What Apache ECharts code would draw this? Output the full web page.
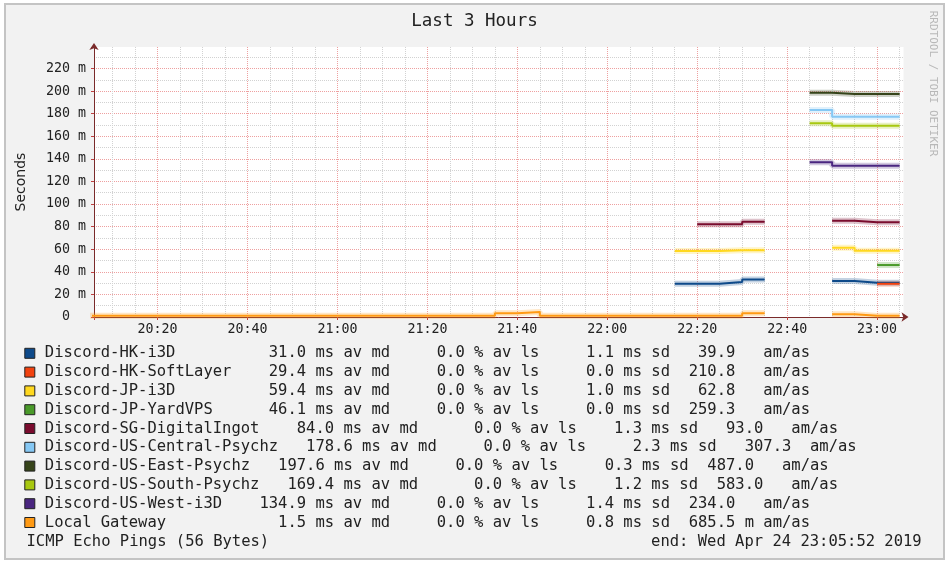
<!DOCTYPE html>
<html><head><meta charset="utf-8">
<script src="https://cdn.jsdelivr.net/npm/echarts@6/dist/echarts.min.js"></script>
<style>
html,body{margin:0;padding:0;background:#fff;}
#frame{position:absolute;left:4px;top:3px;width:941px;height:557px;box-sizing:border-box;border:2px solid #c4c4c4;background:#f2f2f2;}
#chart{width:937px;height:553px;}
</style></head><body>
<div id="frame"><div id="chart"></div></div>
<script>
// ---- data ----
const chartStart = '20:05:52';
const chartEnd = '23:05:52';
const slotMinutes = 5;
const slotStarts = ['20:05','20:10','20:15','20:20','20:25','20:30','20:35','20:40','20:45','20:50','20:55',
  '21:00','21:05','21:10','21:15','21:20','21:25','21:30','21:35','21:40','21:45','21:50','21:55',
  '22:00','22:05','22:10','22:15','22:20','22:25','22:30','22:35','22:40','22:45','22:50','22:55','23:00'];

const seriesNames = ['Discord-HK-i3D','Discord-HK-SoftLayer','Discord-JP-i3D','Discord-JP-YardVPS',
  'Discord-SG-DigitalIngot','Discord-US-Central-Psychz','Discord-US-East-Psychz','Discord-US-South-Psychz',
  'Discord-US-West-i3D','Local Gateway'];
const seriesColors = ['#0e4a8a','#f2420f','#ffd81f','#4a9a2a','#7a0c2e','#86c8f4','#36441a','#a8c810','#4a2680','#ff9a14'];

const N = null;
const hkI3d     = [N,N,N,N,N,N,N,N,N,N,N,N,N,N,N,N,N,N,N,N,N,N,N,N,N,N, 29.5,29.5,31.0,33.2,N,N,N,31.9,30.4,30.3];
const hkSoft    = [N,N,N,N,N,N,N,N,N,N,N,N,N,N,N,N,N,N,N,N,N,N,N,N,N,N, N,N,N,N,N,N,N,N,N,29.4];
const jpI3d     = [N,N,N,N,N,N,N,N,N,N,N,N,N,N,N,N,N,N,N,N,N,N,N,N,N,N, 58.4,58.4,59.1,59.1,N,N,N,61.3,58.7,58.7];
const jpYard    = [N,N,N,N,N,N,N,N,N,N,N,N,N,N,N,N,N,N,N,N,N,N,N,N,N,N, N,N,N,N,N,N,N,N,N,46.0];
const sgIngot   = [N,N,N,N,N,N,N,N,N,N,N,N,N,N,N,N,N,N,N,N,N,N,N,N,N,N, N,82.0,82.0,84.4,N,N,N,85.2,83.8,83.8];
const usCentral = [N,N,N,N,N,N,N,N,N,N,N,N,N,N,N,N,N,N,N,N,N,N,N,N,N,N, N,N,N,N,N,N,183.2,177.3,177.3,177.3];
const usEast    = [N,N,N,N,N,N,N,N,N,N,N,N,N,N,N,N,N,N,N,N,N,N,N,N,N,N, N,N,N,N,N,N,198.5,197.5,197.5,197.5];
const usSouth   = [N,N,N,N,N,N,N,N,N,N,N,N,N,N,N,N,N,N,N,N,N,N,N,N,N,N, N,N,N,N,N,N,171.4,169.2,169.2,169.2];
const usWest    = [N,N,N,N,N,N,N,N,N,N,N,N,N,N,N,N,N,N,N,N,N,N,N,N,N,N, N,N,N,N,N,N,136.9,133.9,133.9,133.9];
const gateway   = [1.0,1.0,1.0,1.0,1.0,1.0,1.0,1.0,1.0,1.0,1.0,1.0,1.0,1.0,1.0,1.0,1.0,1.0,3.3,4.4,1.0,1.0,1.0,
  1.0,1.0,1.0,1.0,1.0,1.0,3.3,N,N,N,2.4,1.0,1.0];
const seriesValues = [hkI3d,hkSoft,jpI3d,jpYard,sgIngot,usCentral,usEast,usSouth,usWest,gateway];

const legendLines = [
  'Discord-HK-i3D          31.0 ms av md     0.0 % av ls     1.1 ms sd   39.9   am/as',
  'Discord-HK-SoftLayer    29.4 ms av md     0.0 % av ls     0.0 ms sd  210.8   am/as',
  'Discord-JP-i3D          59.4 ms av md     0.0 % av ls     1.0 ms sd   62.8   am/as',
  'Discord-JP-YardVPS      46.1 ms av md     0.0 % av ls     0.0 ms sd  259.3   am/as',
  'Discord-SG-DigitalIngot    84.0 ms av md      0.0 % av ls    1.3 ms sd   93.0   am/as',
  'Discord-US-Central-Psychz   178.6 ms av md     0.0 % av ls     2.3 ms sd   307.3  am/as',
  'Discord-US-East-Psychz   197.6 ms av md     0.0 % av ls     0.3 ms sd  487.0   am/as',
  'Discord-US-South-Psychz   169.4 ms av md      0.0 % av ls    1.2 ms sd  583.0   am/as',
  'Discord-US-West-i3D    134.9 ms av md     0.0 % av ls     1.4 ms sd  234.0   am/as',
  'Local Gateway            1.5 ms av md     0.0 % av ls     0.8 ms sd  685.5 m am/as'
];
const titleText = 'Last 3 Hours';
const footLeft = 'ICMP Echo Pings (56 Bytes)';
const footRight = 'end: Wed Apr 24 23:05:52 2019';
const watermark = 'RRDTOOL / TOBI OETIKER';

// ---- helpers ----
function toMin(s){const p=s.split(':').map(Number);return p[0]*60+p[1]+(p[2]||0)/60;}
function hhmm(v){const m=Math.round(v);const h=Math.floor(m/60),mm=m%60;return (h<10?'0':'')+h+':'+(mm<10?'0':'')+mm;}
function stepData(vals){
  const out=[];
  for(let i=0;i<vals.length;i++){
    const v=vals[i], t=toMin(slotStarts[i]);
    if(v==null){ if(out.length && out[out.length-1][1]!=null) out.push([t,null]); continue; }
    out.push([t,v]);
    const next = i+1<vals.length ? vals[i+1] : null;
    if(next==null) out.push([t+slotMinutes,v]);
  }
  return out;
}
const xMin = toMin(chartStart), xMax = toMin(chartEnd);
const mono = 'DejaVu Sans Mono';

const series = [];
seriesNames.forEach((n,k)=>{
  series.push({name:n+' smoke',type:'line',step:'end',data:stepData(seriesValues[k]),symbol:'none',silent:true,
    connectNulls:false,z:2,lineStyle:{color:seriesColors[k],width:6,opacity:0.25},itemStyle:{color:seriesColors[k]}});
});
seriesNames.forEach((n,k)=>{
  series.push({name:n,type:'line',step:'end',data:stepData(seriesValues[k]),symbol:'none',silent:true,
    connectNulls:false,z:3,lineStyle:{color:seriesColors[k],width:2},itemStyle:{color:seriesColors[k]}});
});

const chart = echarts.init(document.getElementById('chart'));
chart.setOption({
  animation:false,
  backgroundColor:'#f2f2f2',
  title:{text:titleText,left:'center',top:7,padding:0,
    textStyle:{fontFamily:mono,fontSize:17.5,fontWeight:'normal',color:'#222'}},
  grid:{show:true,backgroundColor:'#ffffff',borderWidth:0,left:87.5,top:42,width:810,height:270},
  xAxis:[
    {type:'value',min:xMin,max:xMax,minInterval:20,maxInterval:20,position:'bottom',z:2,
      axisLine:{show:true,onZero:false,lineStyle:{color:'#7a2a2a'},symbol:['none','arrow'],symbolSize:[7,7],symbolOffset:[0,5]},
      axisTick:{show:true,length:3,lineStyle:{color:'#c04040'}},
      axisLabel:{margin:6,fontFamily:mono,fontSize:13.3,color:'#222',
        formatter:v=>(Math.abs(v-Math.round(v))<1e-6 && Math.round(v)%20===0)?hhmm(v):''},
      splitLine:{show:true,showMinLine:false,showMaxLine:false,lineStyle:{color:'#eea0a0',type:'dotted'}}},
    {type:'value',min:xMin,max:xMax,minInterval:5,maxInterval:5,z:1,
      axisLine:{show:false},axisTick:{show:false},axisLabel:{show:false},
      splitLine:{show:true,showMinLine:false,showMaxLine:false,lineStyle:{color:'#d2d2d2',type:'dotted'}}}
  ],
  yAxis:{type:'value',min:0,max:239,interval:20,
    name:'Seconds',nameLocation:'middle',nameGap:66,
    nameTextStyle:{fontFamily:'DejaVu Sans',fontSize:14,color:'#222'},
    axisLine:{show:true,lineStyle:{color:'#7a2a2a'},symbol:['none','arrow'],symbolSize:[7,7],symbolOffset:[0,4]},
    axisTick:{show:true,length:3,lineStyle:{color:'#c04040'}},
    axisLabel:{margin:8,fontFamily:mono,fontSize:13.3,color:'#222',
      formatter:v=>v===0?'0  ':(v%20===0?v+' m':'')},
    splitLine:{show:true,showMinLine:false,showMaxLine:false,lineStyle:{color:'#eea0a0',type:'dotted'}},
    minorTick:{show:false,splitNumber:2},
    minorSplitLine:{show:true,lineStyle:{color:'#d2d2d2',type:'dotted'}}},
  legend:{orient:'vertical',left:18.3,top:338.9,padding:0,itemWidth:10,itemHeight:10,itemGap:0,icon:'rect',
    selectedMode:false,data:seriesNames,
    formatter:n=>legendLines[seriesNames.indexOf(n)],
    itemStyle:{borderColor:'#222',borderWidth:1},
    textStyle:{fontFamily:mono,fontSize:15.5,color:'#222',lineHeight:18.8,padding:[0,0,0,5]}},
  graphic:[
    {type:'text',x:926.5,y:78.5,rotation:-Math.PI/2,silent:true,
      style:{text:watermark,fontFamily:mono,fontSize:11,fill:'#b8b8b8',align:'center',verticalAlign:'middle'}},
    {type:'text',x:20.5,y:536.7,silent:true,
      style:{text:footLeft,fontFamily:mono,fontSize:15.5,fill:'#222',verticalAlign:'middle'}},
    {type:'text',x:915.7,y:536.7,silent:true,
      style:{text:footRight,fontFamily:mono,fontSize:15.5,fill:'#222',align:'right',verticalAlign:'middle'}}
  ],
  series:series
});
</script>
</body></html>
